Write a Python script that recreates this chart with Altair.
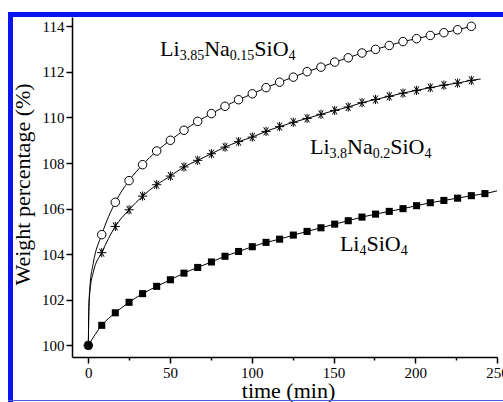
import altair as alt
import pandas as pd

# ---------------- data ----------------
t_pts = [0, 8.2, 16.5, 24.9, 33.2, 41.8, 50.2, 58.5, 66.9, 75.3, 83.6, 91.9,
         100.3, 108.7, 117.0, 125.4, 133.8, 142.3, 150.7, 159.0, 167.4, 175.7,
         184.1, 192.5, 200.8, 209.2, 217.5, 225.9, 234.3]
t_sq = t_pts + [242.6]

li385 = [100, 104.86, 106.28, 107.23, 107.93, 108.53, 109.0, 109.44, 109.83, 110.17,
         110.49, 110.78, 111.04, 111.31, 111.55, 111.77, 112.01, 112.21, 112.43, 112.62,
         112.83, 112.99, 113.16, 113.33, 113.46, 113.60, 113.72, 113.85, 114.0]
li38 = [100, 104.07, 105.22, 105.95, 106.55, 107.05, 107.43, 107.83, 108.12, 108.41,
        108.70, 108.94, 109.14, 109.39, 109.60, 109.79, 109.96, 110.14, 110.31, 110.46,
        110.65, 110.79, 110.93, 111.07, 111.19, 111.31, 111.42, 111.51, 111.63]
li4 = [100, 100.88, 101.43, 101.89, 102.27, 102.59, 102.88, 103.17, 103.42, 103.66,
       103.91, 104.12, 104.33, 104.52, 104.66, 104.84, 105.0, 105.16, 105.32, 105.47,
       105.63, 105.76, 105.88, 106.0, 106.13, 106.26, 106.36, 106.46, 106.57, 106.66]

# extra points of the fitted curves
fit385_t_head = [0.3, 1.0, 3.0]
fit385_v_head = [101.6, 102.6, 103.6]
fit38_t_head = [0.3, 1.0, 3.0]
fit38_v_head = [101.5, 102.4, 103.2]
fit38_t_tail = [240.0]
fit38_v_tail = [111.69]
fit4_t_tail = [250.0]
fit4_v_tail = [106.78]

y_ticks = list(range(100, 115))
x_ticks = [0, 25, 50, 75, 100, 125, 150, 175, 200, 225, 250]

label_x = [43.9, 135.6, 153.9]
label_y = [112.68, 108.41, 104.14]
label_parts = [
    [("Li", 0), ("3.85", 1), ("Na", 0), ("0.15", 1), ("SiO", 0), ("4", 1)],
    [("Li", 0), ("3.8", 1), ("Na", 0), ("0.2", 1), ("SiO", 0), ("4", 1)],
    [("Li", 0), ("4", 1), ("SiO", 0), ("4", 1)],
]

# ---------------- tables ----------------
def pts(name, t, v):
    return pd.DataFrame({"t": t, "v": v, "s": name})

m385 = pts("a", t_pts, li385)
m38 = pts("b", t_pts, li38)
m4 = pts("c", t_sq, li4)

fit = pd.concat([
    pts("a", [0] + fit385_t_head + t_pts[1:], [100] + fit385_v_head + li385[1:]),
    pts("b", [0] + fit38_t_head + t_pts[1:] + fit38_t_tail,
        [100] + fit38_v_head + li38[1:] + fit38_v_tail),
    pts("c", t_sq + fit4_t_tail, li4 + fit4_v_tail),
])

FONT = "Liberation Serif"
xs = alt.Scale(domain=[-10, 250], nice=False, zero=False)
ys = alt.Scale(domain=[99.49, 114.41], nice=False, zero=False)

common_axis = dict(grid=False, labelFont=FONT, labelFontSize=15, labelColor="black",
                   titleFont=FONT, titleFontSize=22, titleFontWeight="normal",
                   titleColor="black", domainColor="black", domainWidth=1.5,
                   tickColor="black", tickWidth=1.5, labelFlush=False)

xaxis = alt.Axis(values=x_ticks, title="time (min)",
                 labelExpr="datum.value % 50 === 0 ? datum.label : ''",
                 tickSize={"condition": {"test": "datum.value % 50 !== 0", "value": 3}, "value": 6},
                 labelPadding=2, titleX=216, titleY=23,
                 titleBaseline="top", titleAnchor="middle", **common_axis)
yaxis = alt.Axis(values=y_ticks, title="Weight percentage (%)",
                 labelExpr="datum.value % 2 === 0 ? datum.label : ''",
                 tickSize={"condition": {"test": "datum.value % 2 !== 0", "value": 3}, "value": 6},
                 labelPadding=2, titleX=-38, titleY=167,
                 titleAngle=270, titleBaseline="bottom", titleAnchor="middle", **common_axis)

lines = alt.Chart(fit).mark_line(color="black", strokeWidth=1, interpolate="monotone").encode(
    x=alt.X("t:Q", scale=xs, axis=xaxis),
    y=alt.Y("v:Q", scale=ys, axis=yaxis),
    detail="s:N",
)

enc = dict(x=alt.X("t:Q", scale=xs), y=alt.Y("v:Q", scale=ys))
circles = alt.Chart(m385).mark_point(shape="circle", size=72, filled=True, fill="white",
                                     stroke="black", strokeWidth=1, opacity=1).encode(**enc)
ASTER = "M-1,0L1,0M-0.5,-0.87L0.5,0.87M-0.5,0.87L0.5,-0.87M0,-1L0,1"
stars = alt.Chart(m38).mark_point(shape=ASTER, size=85, filled=False,
                                  stroke="black", strokeWidth=1, opacity=1).encode(**enc)
squares = alt.Chart(m4).mark_point(shape="square", size=50, filled=True,
                                   color="black", opacity=1).encode(**enc)

# labels with subscripts
WID = {"L": 0.611, "i": 0.278, "N": 0.722, "a": 0.444, "S": 0.556, "O": 0.722, ".": 0.25}
FS, SS = 22, 14

def width(s, size):
    return sum(WID.get(c, 0.5) for c in s) * size

text_layers = []
for lx, ly, parts in zip(label_x, label_y, label_parts):
    df = pd.DataFrame({"t": [lx], "v": [ly]})
    off = 0.0
    for txt, sub in parts:
        size = SS if sub else FS
        text_layers.append(
            alt.Chart(df).mark_text(text=txt, font=FONT, fontSize=size, align="left",
                                    baseline="alphabetic", dx=off, dy=4 if sub else 0,
                                    color="black").encode(**enc)
        )
        off += width(txt, size)

BLUE = "#0a14f0"
frame_left = alt.Chart(pd.DataFrame({"k": [0]})).mark_rect(color=BLUE).encode(
    x=alt.value(-64), x2=alt.value(-59), y=alt.value(-5), y2=alt.value(385))
frame_top = alt.Chart(pd.DataFrame({"k": [0]})).mark_rect(color=BLUE).encode(
    x=alt.value(-64), x2=alt.value(440), y=alt.value(-5), y2=alt.value(0))
frame_bottom = alt.Chart(pd.DataFrame({"k": [0]})).mark_rect(color="#4a5ae0").encode(
    x=alt.value(-64), x2=alt.value(440), y=alt.value(383), y2=alt.value(384))

chart = alt.layer(lines, circles, stars, squares, *text_layers,
                  frame_left, frame_top, frame_bottom).properties(
    width=425, height=340,
    autosize=alt.AutoSizeParams(type="none"),
    padding={"left": 72, "top": 17, "right": 6, "bottom": 45},
    background="white",
).configure_view(stroke=None)

chart.save("out.html", embed_options={"renderer": "svg", "actions": False})
